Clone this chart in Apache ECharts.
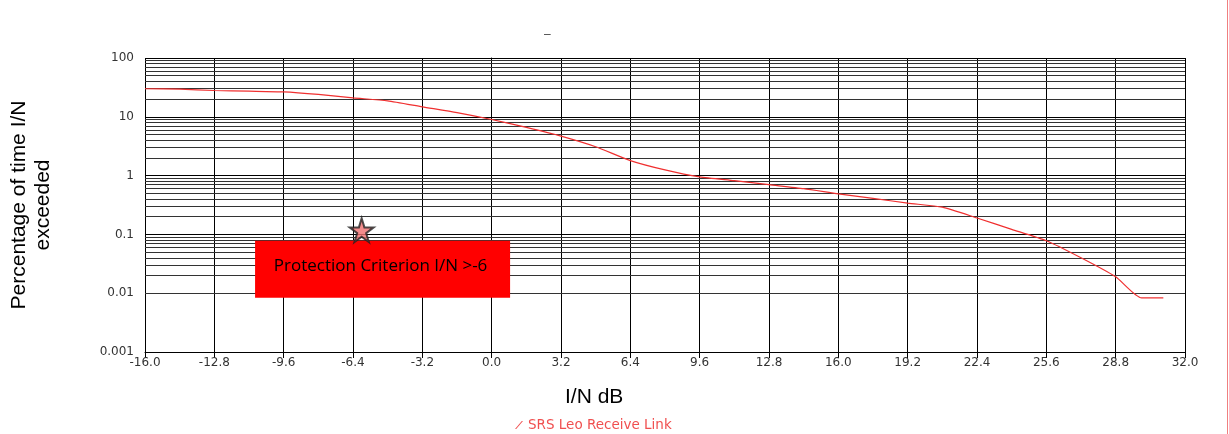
<!DOCTYPE html>
<html>
<head>
<meta charset="utf-8">
<script src="https://cdn.jsdelivr.net/npm/echarts@6/dist/echarts.min.js"></script>
<style>
html,body{margin:0;padding:0;background:#fff;}
#chart{width:1229px;height:434px;}
</style>
</head>
<body>
<div id="chart"></div>
<script>
// I/N (dB) values along the curve
const inDb = [-16, -14.4, -12.8, -11.2, -9.6, -8.0, -6.4, -4.8, -3.2, -1.6, 0.0, 1.6, 3.2, 4.8, 6.4, 8.0, 9.6, 11.2, 12.8, 14.4, 16.0, 17.6, 19.2, 20.8, 22.4, 24.0, 25.6, 27.2, 28.8, 30.0, 31.0];
// Percentage of time I/N exceeded
const pctExceeded = [30, 29.5, 28, 27.3, 26.5, 24, 21, 18.7, 14.8, 11.8, 9.0, 6.6, 4.7, 3.1, 1.8, 1.25, 0.95, 0.82, 0.70, 0.60, 0.49, 0.41, 0.34, 0.29, 0.19, 0.122, 0.078, 0.040, 0.019, 0.0083, 0.0083];
// protection criterion marker
const criterionPoint = [-6.0, 0.118];
const criterionText = 'Protection Criterion I/N >-6';
// axis settings
const xMin = -16, xMax = 32, xStep = 3.2;
const yMin = 0.001, yMax = 100;
const seriesName = 'SRS Leo Receive Link';

// minor log grid values (2..9 per decade)
const minorGrid = [];
for (let e = -3; e < 2; e++) {
  for (let m = 2; m <= 9; m++) minorGrid.push(+(m * Math.pow(10, e)).toPrecision(3));
}

const data = inDb.map((x, i) => [x, pctExceeded[i]]);

const chart = echarts.init(document.getElementById('chart'), null, {renderer: 'canvas'});
const fontFam = '"Liberation Sans", Arial, sans-serif';
const tickFont = '"DejaVu Sans", Verdana, sans-serif';

chart.setOption({
  animation: false,
  backgroundColor: '#fff',
  title: {
    text: '\u2013', left: 539, top: 24,
    textStyle: {fontSize: 12, color: '#444', fontWeight: 'normal', fontFamily: fontFam}
  },
  legend: {
    data: [{name: seriesName, icon: 'path://M0,10 L1.5,10 L10,0 L8.5,0 Z'}],
    left: 510, top: 413,
    itemWidth: 8, itemHeight: 8, itemGap: 6,
    textStyle: {color: '#f05050', fontSize: 13.5, fontFamily: tickFont},
    itemStyle: {color: '#f05050'}
  },
  grid: {left: 145, right: 44, top: 58, bottom: 82, containLabel: false, outerBoundsMode: 'none'},
  xAxis: {
    type: 'value', min: xMin, max: xMax, interval: xStep,
    axisLine: {show: true, onZero: false, lineStyle: {color: '#000', width: 1}},
    axisTick: {show: true, length: 6, lineStyle: {color: '#000'}},
    axisLabel: {
      color: '#333', fontSize: 12, fontFamily: tickFont, margin: 5,
      formatter: v => (Math.abs(v) < 1e-9 ? 0 : v).toFixed(1)
    },
    splitLine: {show: true, lineStyle: {color: '#000', width: 1}}
  },
  yAxis: {
    type: 'log', logBase: 10, min: yMin, max: yMax, splitNumber: 5,
    name: 'Percentage of time I/N\nexceeded', nameLocation: 'middle', nameRotate: 90, nameGap: 90,
    nameTextStyle: {fontSize: 21, color: '#000', fontFamily: fontFam, lineHeight: 24},
    axisLine: {show: true, lineStyle: {color: '#000', width: 1}},
    axisTick: {show: true, length: 6, lineStyle: {color: '#000'}},
    axisLabel: {
      color: '#333', fontSize: 12, fontFamily: tickFont, margin: 11,
      formatter: v => String(+(+v).toPrecision(3))
    },
    splitLine: {show: true, lineStyle: {color: '#000', width: 1}}
  },
  graphic: [
    {type: 'text', left: 565, top: 387, style: {text: 'I/N dB', fill: '#000', font: '21px ' + fontFam}},
    {type: 'line', shape: {x1: 1227.5, y1: 0, x2: 1227.5, y2: 434}, style: {stroke: '#f08080', lineWidth: 1}}
  ],
  series: [
    {
      name: 'minor-grid',
      type: 'line',
      data: [],
      z: 1,
      silent: true,
      markLine: {
        silent: true, symbol: 'none', animation: false, z: 1,
        label: {show: false},
        lineStyle: {color: '#333', width: 1, type: 'solid'},
        data: minorGrid.map(v => ({yAxis: v}))
      }
    },
    {
      name: seriesName,
      type: 'line',
      data: data,
      showSymbol: false,
      symbol: 'none',
      smooth: 0.2,
      lineStyle: {color: '#f03030', width: 1.2},
      itemStyle: {color: '#f05050'},
      z: 5
    },
    {
      name: 'criterion',
      type: 'scatter',
      data: [criterionPoint],
      symbol: 'path://M50,0 L61,35 L98,35 L68,57 L79,91 L50,70 L21,91 L32,57 L2,35 L39,35 Z',
      symbolSize: 24,
      itemStyle: {color: '#f07070', borderColor: '#222', borderWidth: 2},
      z: 10,
      markArea: {
        silent: true, z: 4,
        itemStyle: {color: '#ff0000'},
        label: {show: true, position: 'inside', color: '#000', fontSize: 17, fontFamily: '"Open Sans", "Noto Sans", sans-serif', offset: [-2, -3]},
        data: [[{name: criterionText, xAxis: -10.92, yAxis: 0.0783}, {xAxis: 0.85, yAxis: 0.0084}]]
      }
    }
  ]
});
</script>
</body>
</html>
